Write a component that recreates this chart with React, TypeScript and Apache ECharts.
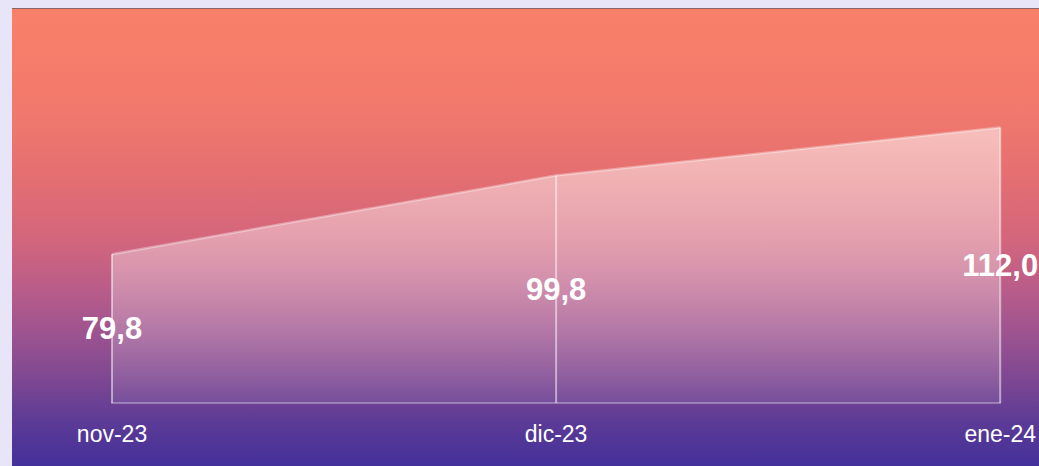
import React, { useEffect, useRef } from "react";
import * as echarts from "echarts";

const categories = ["nov-23", "dic-23", "ene-24"];
const values = [79.8, 99.8, 112.0];
const valueLabels = ["79,8", "99,8", "112,0"];
const yMin = 42;
const yMax = 120;

export default function App() {
  const ref = useRef<HTMLDivElement>(null);

  useEffect(() => {
    if (!ref.current) return;
    const chart = echarts.init(ref.current, undefined, { renderer: "svg" });
    chart.setOption({
      animation: false,
      backgroundColor: "transparent",
      grid: { left: 100, right: 36, top: 87, bottom: 63 },
      xAxis: {
        type: "category",
        data: categories,
        boundaryGap: false,
        axisLine: { show: true, lineStyle: { color: "rgba(255,255,255,0.3)", width: 2 } },
        axisTick: { show: false },
        splitLine: { show: false },
        axisLabel: {
          color: "#ffffff",
          fontSize: 23,
          fontFamily: "'Liberation Sans', Arial, Helvetica, sans-serif",
          margin: 19,
        },
      },
      yAxis: {
        type: "value",
        min: yMin,
        max: yMax,
        show: false,
        splitLine: { show: false },
      },
      series: [
        {
          type: "line",
          data: values,
          symbol: "none",
          lineStyle: { color: "rgba(255,255,255,0.35)", width: 2.5 },
          areaStyle: {
            origin: "start",
            color: new echarts.graphic.LinearGradient(0, 0, 0, 1, [
              { offset: 0, color: "rgba(255,255,255,0.76)" },
              { offset: 0.5, color: "rgba(255,255,255,0.48)" },
              { offset: 1, color: "rgba(255,255,255,0.1)" },
            ]),
          },
          z: 2,
        },
        {
          type: "custom",
          clip: false,
          z: 3,
          data: values.map((v, i) => [i, v]),
          renderItem: (params: any, api: any) => {
            const idx = api.value(0);
            const v = api.value(1);
            const top = api.coord([idx, v]);
            const base = api.coord([idx, yMin]);
            const i = params.dataIndex;
            return {
              type: "group",
              children: [
                {
                  type: "line",
                  shape: { x1: top[0], y1: top[1], x2: base[0], y2: base[1] },
                  style: { stroke: "rgba(255,255,255,0.5)", lineWidth: 2 },
                },
                {
                  type: "text",
                  x: top[0],
                  y: (top[1] + base[1]) / 2,
                  style: {
                    text: valueLabels[i],
                    fill: "#ffffff",
                    font: "bold 31px 'Liberation Sans', Arial, Helvetica, sans-serif",
                    textAlign: "center",
                    textVerticalAlign: "middle",
                  },
                },
              ],
            };
          },
        },
      ],
    });
    return () => chart.dispose();
  }, []);

  return (
    <div
      style={{
        position: "fixed",
        inset: 0,
        background: "#e7e5f7",
        overflow: "hidden",
      }}
    >
      <div
        style={{
          position: "absolute",
          left: 12,
          top: 8,
          width: 1027,
          height: 458,
          boxSizing: "border-box",
          borderTop: "1px solid #8a6565",
          background:
            "linear-gradient(to bottom, #f98068 0%, #f27a6c 20%, #e67070 35%, #d4667c 50%, #b75c8a 62%, #9a5290 72%, #7a4692 82%, #5a3a96 91%, #43309a 100%)",
        }}
      >
        <div ref={ref} style={{ width: 1027, height: 457 }} />
      </div>
    </div>
  );
}
